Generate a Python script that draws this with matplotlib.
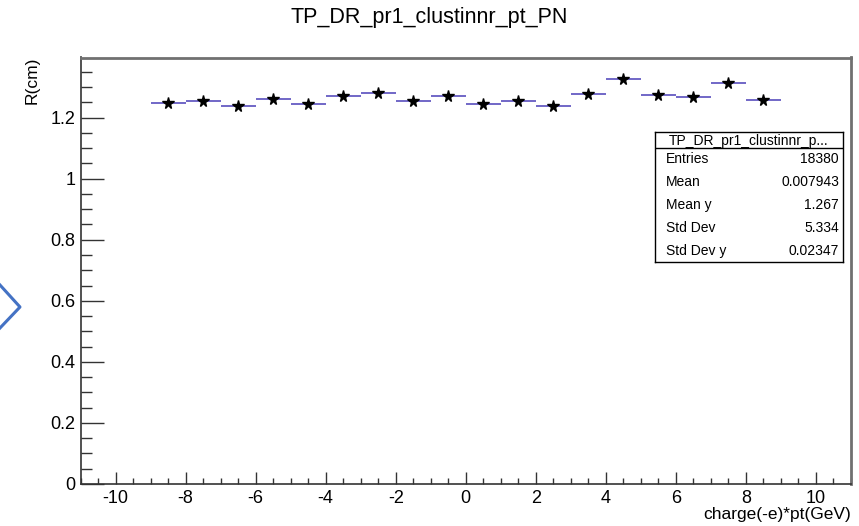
import numpy as np
import matplotlib
matplotlib.use('Agg')
import matplotlib.pyplot as plt
from matplotlib.ticker import MultipleLocator
from matplotlib.lines import Line2D

plt.rcParams['font.family'] = ['Liberation Sans', 'DejaVu Sans']
plt.rcParams['axes.unicode_minus'] = False

# profile bins: charge*pt centres and mean R
bin_centers = [-8.5, -7.5, -6.5, -5.5, -4.5, -3.5, -2.5, -1.5, -0.5,
               0.5, 1.5, 2.5, 3.5, 4.5, 5.5, 6.5, 7.5, 8.5]
r_mean = [1.249, 1.255, 1.237, 1.262, 1.245, 1.272, 1.280, 1.255, 1.272,
          1.246, 1.255, 1.237, 1.278, 1.328, 1.274, 1.266, 1.312, 1.259]
bin_width = 1.0

stat_names = ['Entries', 'Mean', 'Mean y', 'Std Dev', 'Std Dev y']
stat_values = ['18380', '0.007943', '1.267', '5.334', '0.02347']

fig = plt.figure(figsize=(8.59, 5.26), dpi=100)
ax = fig.add_axes([80.5 / 859, 1 - 484 / 526, (851 - 80.5) / 859, (484 - 57.5) / 526])

x = np.array(bin_centers)
y = np.array(r_mean)
ax.hlines(y, x - bin_width / 2, x + bin_width / 2, color='#4a3fb8', lw=1.1)
ax.plot(x, y, ls='none', marker='*', color='black', markersize=8.5)

ax.set_xlim(-11, 11)
ax.set_ylim(0, 1.397)
ax.xaxis.set_major_locator(MultipleLocator(2))
ax.xaxis.set_minor_locator(MultipleLocator(0.5))
ax.yaxis.set_major_locator(MultipleLocator(0.2))
ax.yaxis.set_minor_locator(MultipleLocator(0.05))
ax.yaxis.set_major_formatter(plt.FuncFormatter(lambda v, p: ('%g' % round(v, 2))))
ax.tick_params(axis='x', which='major', direction='in', length=8.6, width=1, labelsize=13, color='#333333', pad=4)
ax.tick_params(axis='x', which='minor', direction='in', length=4.3, width=1, color='#333333')
ax.tick_params(axis='y', which='major', direction='in', length=16.5, width=1, labelsize=13, color='#333333', pad=3.5)
ax.tick_params(axis='y', which='minor', direction='in', length=8, width=1, color='#333333')
ax.tick_params(top=False, right=False, which='both')
for s in ['left', 'bottom']:
    ax.spines[s].set_color('#333333')
    ax.spines[s].set_linewidth(1.2)
for s in ['top', 'right']:
    ax.spines[s].set_color('#707070')
    ax.spines[s].set_linewidth(2)

fig.text(0.5, 1 - 18 / 526, 'TP_DR_pr1_clustinnr_pt_PN', ha='center', va='center', fontsize=15.5)
fig.text(32 / 859, 1 - 57 / 526, 'R(cm)', rotation=90, ha='center', va='top', fontsize=12.5)
fig.text(851 / 859, 1 - 514 / 526, 'charge(-e)*pt(GeV)', ha='right', va='center', fontsize=12.5)

# stats box
bx0, bx1, by0, by1 = 655, 843, 132, 262
sax = fig.add_axes([bx0 / 859, 1 - by1 / 526, (bx1 - bx0) / 859, (by1 - by0) / 526])
sax.set_xlim(bx0, bx1)
sax.set_ylim(by1, by0)
sax.set_xticks([])
sax.set_yticks([])
for s in sax.spines.values():
    s.set_linewidth(1)
    s.set_color('black')
head = 148
sax.add_line(Line2D([bx0, bx1], [head, head], color='black', lw=1))
sax.text((bx0 + bx1) / 2, (by0 + head) / 2 + 0.5, 'TP_DR_pr1_clustinnr_p...', ha='center', va='center', fontsize=10)
row_h = (by1 - head) / len(stat_names)
for i, (n, v) in enumerate(zip(stat_names, stat_values)):
    yc = head + row_h * (i + 0.5)
    sax.text(666, yc, n, ha='left', va='center', fontsize=10)
    sax.text(839, yc, v, ha='right', va='center', fontsize=10)

# slide chevron at the left edge
fig.add_artist(Line2D([0, 20 / 859, 0], [1 - 285 / 526, 1 - 307 / 526, 1 - 328 / 526],
                      color='#4472c4', lw=2.2, transform=fig.transFigure))

fig.savefig('out.png', dpi=100)
